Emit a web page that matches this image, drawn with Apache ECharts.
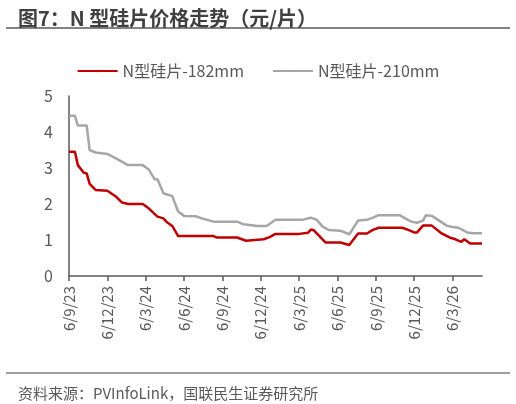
<!DOCTYPE html>
<html>
<head>
<meta charset="utf-8">
<script src="https://cdn.jsdelivr.net/npm/echarts@6/dist/echarts.min.js"></script>
<style>
  html, body { margin: 0; padding: 0; background: #fff; }
  #chart { width: 516px; height: 404px; }
</style>
</head>
<body>
<div id="chart"></div>
<script>
// x positions are week numbers counted from 6/9/23 (13 weeks per label)
const tickLabels = ['6/9/23', '6/12/23', '6/3/24', '6/6/24', '6/9/24', '6/12/24',
  '6/3/25', '6/6/25', '6/9/25', '6/12/25', '6/3/26']
const weekCount = 141

const weeks182 = [0, 2, 3, 5, 6, 7, 9, 13, 16, 18, 20, 25, 27, 30, 32, 33, 35, 37, 49, 50,
  57, 60, 66, 68, 70, 78, 81, 82, 83, 87, 92, 95, 98, 101, 103, 105, 113, 115, 117, 118,
  120, 123, 126, 129, 131, 133, 134, 136, 140]
const price182 = [3.45, 3.45, 3.08, 2.87, 2.85, 2.56, 2.39, 2.37, 2.2, 2.04, 2.0, 2.0, 1.88, 1.65, 1.6, 1.51, 1.39, 1.11, 1.11, 1.07,
  1.07, 0.98, 1.02, 1.08, 1.17, 1.17, 1.2, 1.29, 1.27, 0.93, 0.93, 0.86, 1.18, 1.18, 1.28, 1.34, 1.34, 1.28, 1.21, 1.21,
  1.4, 1.4, 1.2, 1.07, 1.02, 0.95, 1.02, 0.9, 0.9]

const weeks210 = [0, 2, 3, 6, 7, 9, 13, 17, 20, 25, 27, 29, 30, 32, 35, 37, 39, 43, 45, 49,
  57, 59, 64, 67, 70, 79, 82, 84, 86, 88, 92, 95, 98, 101, 103, 105, 112, 116, 118, 120,
  121, 123, 126, 128, 130, 132, 135, 137, 140]
const price210 = [4.45, 4.45, 4.18, 4.18, 3.5, 3.43, 3.39, 3.22, 3.08, 3.08, 2.96, 2.69, 2.69, 2.3, 2.22, 1.79, 1.67, 1.66, 1.6, 1.51,
  1.51, 1.44, 1.39, 1.39, 1.56, 1.56, 1.62, 1.56, 1.37, 1.28, 1.26, 1.16, 1.54, 1.56, 1.62, 1.69, 1.69, 1.51, 1.48, 1.54,
  1.69, 1.67, 1.51, 1.4, 1.36, 1.34, 1.21, 1.19, 1.19]

const font = '"Noto Sans CJK SC", "Microsoft YaHei", sans-serif'
const weekIndex = Array.from({ length: weekCount }, (_, i) => String(i))
const pairs = (xs, ys) => xs.map((x, i) => [x, ys[i]])

const chart = echarts.init(document.getElementById('chart'))
chart.setOption({
  animation: false,
  textStyle: { fontFamily: font },
  title: [
    {
      text: '图7：N 型硅片价格走势（元/片）',
      left: 13, top: 3,
      textStyle: { fontSize: 20, fontWeight: 'bold', color: '#404040', fontFamily: font },
    },
    {
      text: '资料来源：PVInfoLink，国联民生证券研究所',
      left: 13, top: 381,
      textStyle: { fontSize: 15, fontWeight: 'normal', color: '#595959', fontFamily: font },
    },
  ],
  graphic: [
    { type: 'line', shape: { x1: 6, y1: 28, x2: 510, y2: 28 }, style: { stroke: '#595959', lineWidth: 1.5 } },
    { type: 'line', shape: { x1: 6, y1: 373, x2: 510, y2: 373 }, style: { stroke: '#7f7f7f', lineWidth: 1.5 } },
  ],
  legend: {
    top: 58, left: 'center',
    itemWidth: 40, itemHeight: 3, itemGap: 28,
    textStyle: { fontSize: 16, color: '#595959', fontFamily: font },
    data: ['N型硅片-182mm', 'N型硅片-210mm'],
  },
  grid: { left: 69, right: 34, top: 96, bottom: 128, containLabel: false },
  xAxis: {
    type: 'category',
    data: weekIndex,
    boundaryGap: false,
    axisLine: { lineStyle: { color: '#595959', width: 1.5 } },
    axisTick: { interval: 12, length: 5, lineStyle: { color: '#595959', width: 1.5 } },
    axisLabel: {
      interval: 12, rotate: 90, margin: 10,
      fontSize: 15, color: '#595959', fontFamily: font,
      formatter: (v, i) => (i % 13 === 0 ? tickLabels[i / 13] : ''),
    },
    splitLine: { show: false },
  },
  yAxis: {
    type: 'value',
    min: 0, max: 5, interval: 1,
    axisLine: { show: true, lineStyle: { color: '#595959', width: 1.5 } },
    axisTick: { show: false },
    axisLabel: { fontSize: 16, color: '#595959', margin: 16, fontFamily: font },
    splitLine: { show: false },
  },
  series: [
    {
      name: 'N型硅片-182mm',
      type: 'line',
      symbol: 'none',
      data: pairs(weeks182, price182),
      lineStyle: { color: '#C00000', width: 2.5 },
      itemStyle: { color: '#C00000' },
    },
    {
      name: 'N型硅片-210mm',
      type: 'line',
      symbol: 'none',
      data: pairs(weeks210, price210),
      lineStyle: { color: '#A6A6A6', width: 2.5 },
      itemStyle: { color: '#A6A6A6' },
    },
  ],
})
</script>
</body>
</html>
